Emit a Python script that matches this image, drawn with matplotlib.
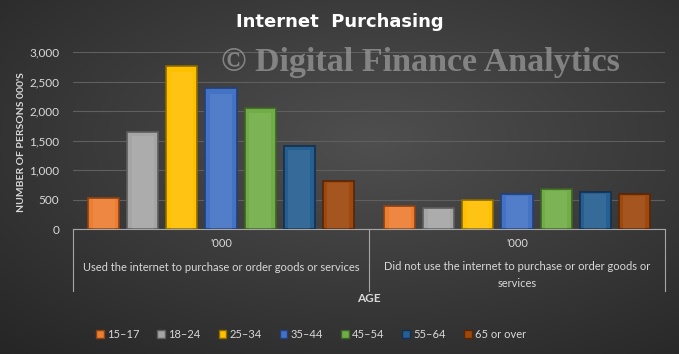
import numpy as np
import matplotlib.pyplot as plt
from matplotlib.patches import Patch

categories = ["Used the internet to purchase or order goods or services",
              "Did not use the internet to purchase or order goods or\nservices"]
age_groups = ["15\u201317", "18\u201324", "25\u201334", "35\u201344", "45\u201354", "55\u201364", "65 or over"]
used = [530, 1640, 2770, 2390, 2050, 1400, 810]
not_used = [390, 350, 500, 590, 670, 620, 590]
colors = ["#ED7D31", "#A5A5A5", "#FFC000", "#4472C4", "#70AD47", "#255E91", "#9E480E"]
edges = ["#8a4214", "#5e5e5e", "#8c6a00", "#22407a", "#3d6326", "#123050", "#5a2505"]

plt.rcParams['font.family'] = ['Lato', 'DejaVu Sans']
txt = "#d9d9d9"

fig = plt.figure(figsize=(6.79, 3.54), dpi=100)

# background gradient
bg = fig.add_axes([0, 0, 1, 1])
yy, xx = np.mgrid[0:1:200j, 0:1:400j]
d = np.sqrt(((xx - 0.55) / 0.9) ** 2 + ((yy - 0.4) / 0.9) ** 2)
g = 0.31 - 0.18 * d
bg.imshow(np.dstack([g, g, g]).clip(0, 1), extent=[0, 1, 0, 1], aspect='auto', origin='upper')
bg.axis('off')

ax = fig.add_axes([73 / 679, 1 - 229 / 354, 592 / 679, 177 / 354])
ax.patch.set_alpha(0)

w = 0.105
pitch = 0.132
x = np.arange(len(categories))
for i, age in enumerate(age_groups):
    vals = [used[i], not_used[i]]
    pos = x + (i - 3) * pitch
    ax.bar(pos, vals, width=w, color=colors[i], edgecolor=edges[i], linewidth=1.2, zorder=3)
    # bevel highlight
    ax.bar(pos, [v * 0.96 for v in vals], width=w * 0.72, color="white", alpha=0.08,
           linewidth=0, zorder=4)

ax.set_xlim(-0.5, 1.5)
ax.set_ylim(0, 3000)
ax.set_yticks(range(0, 3001, 500))
ax.set_yticklabels([f"{v:,}" for v in range(0, 3001, 500)], color=txt, fontsize=8.5)
ax.yaxis.grid(True, color="#5f5f5f", linewidth=0.8, zorder=0)
ax.tick_params(axis='y', length=0, pad=10)
ax.set_xticks([])
for s in ["top", "right", "left"]:
    ax.spines[s].set_visible(False)
ax.spines["bottom"].set_color("#a6a6a6")

# category box lines
for xv in [-0.5, 0.5, 1.5]:
    ax.plot([xv, xv], [0, -0.35], transform=ax.get_xaxis_transform(), color="#a6a6a6",
            linewidth=0.8, clip_on=False)
for xi, cat in zip(x, categories):
    ax.text(xi, -0.08, "'000", transform=ax.get_xaxis_transform(), ha="center", va="center",
            color=txt, fontsize=8)
    ax.text(xi, -0.215 if "\n" not in cat else -0.26, cat, transform=ax.get_xaxis_transform(),
            ha="center", va="center", color=txt, fontsize=8, linespacing=1.6)

fig.text(369 / 679, 1 - 298 / 354, "AGE", ha="center", va="center", color=txt,
         fontsize=8.5, fontweight="bold")
fig.text(22 / 679, 1 - 142 / 354, "NUMBER OF PERSONS 000'S", rotation=90, ha="center",
         va="center", color=txt, fontsize=7.5, fontweight="bold")
fig.text(340 / 679, 1 - 22 / 354, "Internet  Purchasing", ha="center", va="center",
         color="white", fontsize=13, fontweight="bold", family="DejaVu Sans")
fig.text(420 / 679, 1 - 63 / 354, "\u00a9 Digital Finance Analytics", ha="center", va="center",
         color="#9a9a9a", alpha=0.75, fontsize=24.5, fontweight="bold",
         family="Liberation Serif", zorder=10)

handles = [Patch(facecolor=c, edgecolor=e) for c, e in zip(colors, edges)]
fig.legend(handles, age_groups, loc="center", bbox_to_anchor=(311 / 679, 1 - 334 / 354),
           ncol=7, frameon=False, fontsize=8, labelcolor=txt, handlelength=0.7,
           handleheight=0.7, handletextpad=0.3, columnspacing=1.6)

fig.savefig("out.png", dpi=100)
